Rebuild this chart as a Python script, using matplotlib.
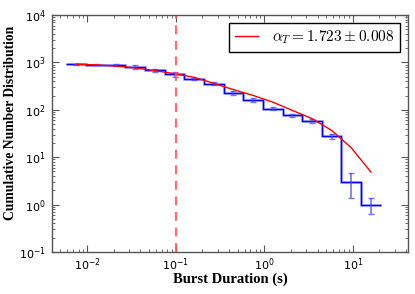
import numpy as np
import matplotlib
matplotlib.use("Agg")
import matplotlib.pyplot as plt

plt.rcParams['mathtext.fontset'] = 'cm'

# Log-spaced bin edges (log10 seconds)
log_edges = [-2.233, -2.011, -1.789, -1.568, -1.346, -1.124, -0.902, -0.680,
             -0.459, -0.237, -0.015, 0.207, 0.429, 0.650, 0.872, 1.094, 1.316]
counts = [907, 894, 877, 796, 678, 558, 453, 356, 225, 158, 105, 76, 58, 27.5, 3, 1]
errors = [15, 20, 30, 80, 65, 70, 25, 30, 20, 15, 7, 6, 5, 3.5, 1.65, 0.38]
fit_vals = [916, 886, 836, 766, 668, 578, 483, 361, 266, 201, 145, 97, 65, 36.7, 15.8, 4.85]
threshold = 0.1
legend_label = r'$\alpha_T = 1.723 \pm 0.008$'

edges = 10 ** np.array(log_edges)
centers = 10 ** ((np.array(log_edges[:-1]) + np.array(log_edges[1:])) / 2)

fig = plt.figure(figsize=(4.15, 2.94), dpi=100)
ax = fig.add_axes([0.125, 0.143, 0.858, 0.806])

ax.stairs(counts, edges, color='#7777ff', lw=2.0, alpha=0.6, baseline=None)
ax.stairs(counts, edges, color='#0000ff', lw=1.0, baseline=None)
ax.errorbar(centers, counts, yerr=errors, fmt='none', ecolor='#4444ff',
            alpha=0.75, capsize=2.5, elinewidth=1.2, capthick=1.0)
ax.plot(centers, fit_vals, color='red', lw=1.0, label=legend_label)
ax.axvline(threshold, color='#ff5555', lw=1.6, ls=(0, (4, 3)), alpha=0.85)

ax.set_xscale('log')
ax.set_yscale('log')
ax.set_xlim(0.004, 42)
ax.set_ylim(0.1, 1e4)

for s in ax.spines.values():
    s.set_color('#555555')
    s.set_linewidth(1.0)
ax.tick_params(which='both', direction='in', top=True, right=True,
               colors='#555555', labelcolor='black', labelsize=8)
ax.tick_params(which='major', length=5)
ax.tick_params(which='minor', length=2.5)
ax.tick_params(axis='x', which='major', pad=3.5)
ax.tick_params(axis='y', which='major', pad=4.5)

ax.set_xlabel('Burst Duration (s)', family='Liberation Serif', weight='bold', fontsize=10.5)
ax.set_ylabel('Cumulative Number Distribution', family='Liberation Serif', weight='bold', fontsize=9.8)
ax.xaxis.set_label_coords(0.5, -0.088)
ax.yaxis.set_label_coords(-0.097, 0.545)

leg = ax.legend(loc='upper right', fontsize=11, fancybox=False, framealpha=1,
                edgecolor='black', borderpad=0.4, handlelength=1.5,
                handletextpad=0.9, borderaxespad=0.5)
leg.get_frame().set_linewidth(1.0)

fig.savefig('out.png', dpi=100)
